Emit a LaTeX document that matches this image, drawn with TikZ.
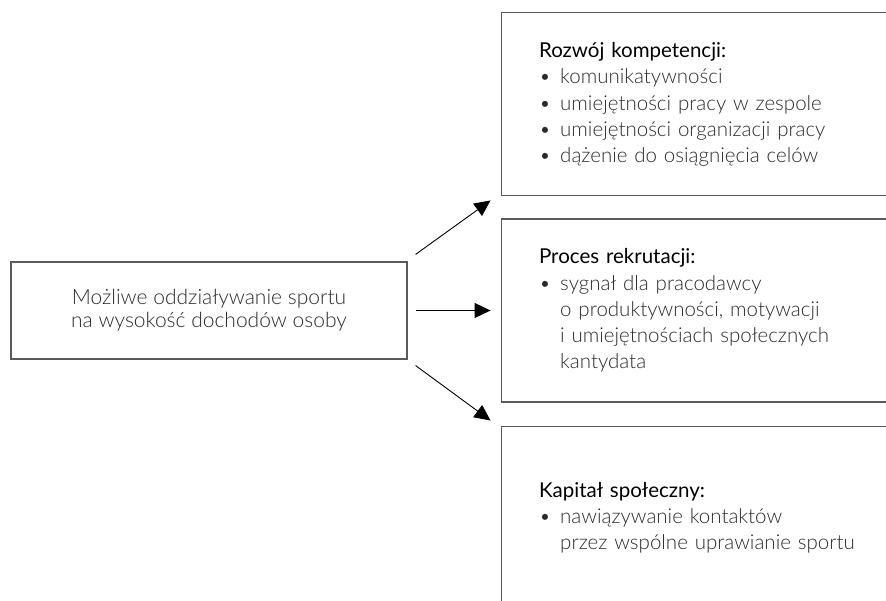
\documentclass[tikz,border=0pt]{standalone}
\usepackage{fontspec}
\setmainfont{Lato}
\newfontfamily\lightfont{Lato Light}
\usetikzlibrary{arrows.meta,positioning,calc}
\definecolor{boxGray}{HTML}{5A5A5A}
\definecolor{bodyText}{HTML}{2A2A2A}
\newcommand{\bulitem}{\textbullet\hspace{0.45em}}
\newcommand{\bulcont}{\phantom{\textbullet}\hspace{0.45em}}
\newcommand{\headline}[1]{{\normalfont\color{black}#1}}

\begin{document}
\begin{tikzpicture}[
  x=1pt,y=1pt,
  node distance=22pt and 93pt,
  srcbox/.style={draw=boxGray,line width=1.1pt,minimum width=396pt,minimum height=97pt,align=center,text=bodyText,font=\lightfont\fontsize{21}{23}\selectfont},
  infobox/.style={draw=boxGray,line width=1.1pt,minimum height=183pt,text width=360pt,inner xsep=38pt,align=left,text=bodyText,font=\lightfont\fontsize{20.5}{26.2}\selectfont},
  arrow/.style={-{Triangle[length=16pt,width=15pt]},line width=0.9pt}
]
\useasboundingbox (-209,310.5) rectangle (677,-290.5);
\clip (-209,310.5) rectangle (677,-290.5);

% lewa strona
\node[srcbox] (src) {Możliwe oddziaływanie sportu\\na wysokość dochodów osoby};

% prawa kolumna
\node[infobox,right=of src] (rec) {\headline{Proces rekrutacji:}\\
  \bulitem sygnał dla pracodawcy\\
  \bulcont o produktywności, motywacji\\
  \bulcont i umiejętnościach społecznych\\
  \bulcont kantydata};
\node[infobox,above=of rec] (comp) {\headline{Rozwój kompetencji:}\\
  \bulitem komunikatywności\\
  \bulitem umiejętności pracy w zespole\\
  \bulitem umiejętności organizacji pracy\\
  \bulitem dążenie do osiągnięcia celów};
\node[infobox,below=23pt of rec] (cap) {\headline{Kapitał społeczny:}\\
  \bulitem nawiązywanie kontaktów\\
  \bulcont przez wspólne uprawianie sportu};

% strzałki
\draw[arrow] ([xshift=8pt,yshift=7pt]src.north east) -- ([xshift=-10pt,yshift=-4pt]comp.south west);
\draw[arrow] ([xshift=8pt]src.east) -- ([xshift=-10pt]rec.west |- src.east);
\draw[arrow] ([xshift=8pt,yshift=-6pt]src.south east) -- ([xshift=-10pt,yshift=5pt]cap.north west);
\end{tikzpicture}
\end{document}
